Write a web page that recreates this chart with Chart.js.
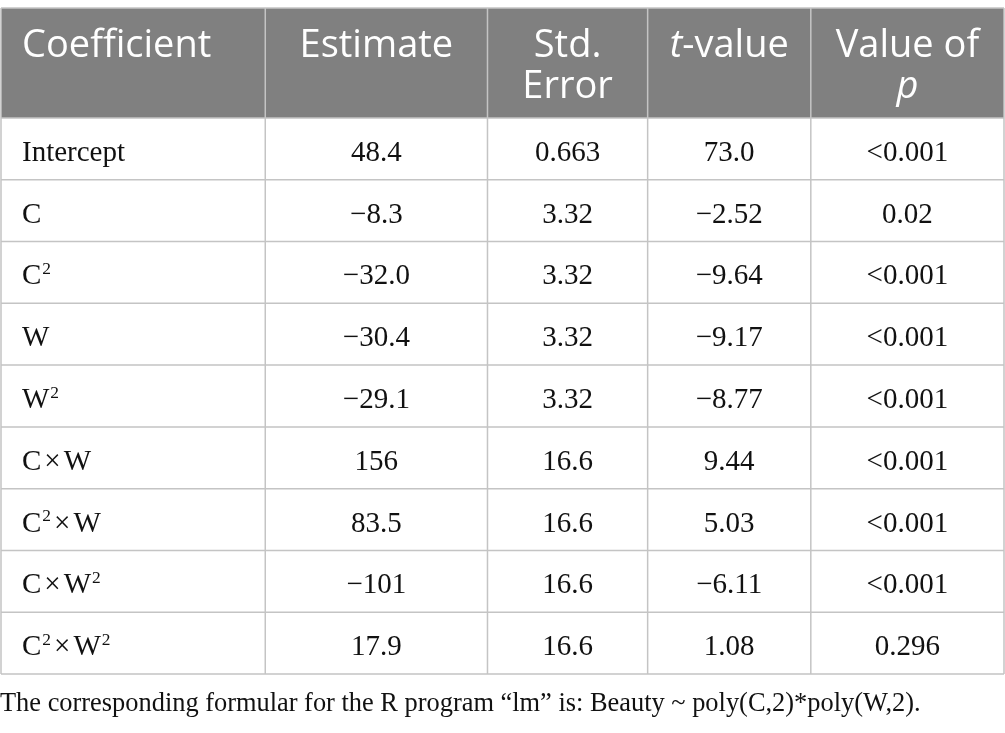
<!DOCTYPE html>
<html>
<head>
<meta charset="utf-8">
<script src="https://cdn.jsdelivr.net/npm/chart.js@4/dist/chart.umd.min.js"></script>
<style>
  html, body { margin: 0; padding: 0; background: #fff; }
  #wrap { width: 1005px; height: 733px; position: relative; }
</style>
</head>
<body>
<div id="wrap"><canvas id="table-chart"></canvas></div>
<script>
// Table contents
const headers = [["Coefficient"], ["Estimate"], ["Std.", "Error"], ["*t*-value"], ["Value of", "*p*"]];
const coefficients = ["Intercept", "C", "C^2", "W", "W^2", "C×W", "C^2×W", "C×W^2", "C^2×W^2"];
const estimates = ["48.4", "−8.3", "−32.0", "−30.4", "−29.1", "156", "83.5", "−101", "17.9"];
const stdErrors = ["0.663", "3.32", "3.32", "3.32", "3.32", "16.6", "16.6", "16.6", "16.6"];
const tValues = ["73.0", "−2.52", "−9.64", "−9.17", "−8.77", "9.44", "5.03", "−6.11", "1.08"];
const pValues = ["<0.001", "0.02", "<0.001", "<0.001", "<0.001", "<0.001", "<0.001", "<0.001", "0.296"];
const footnote = "The corresponding formular for the R program \u201Clm\u201D is: Beauty ~ poly(C,2)*poly(W,2).";

// layout
const colWidths = [264, 222, 160, 163, 193];
const HEADER_TOP = 8;
const GRID = "#c4c4c4";
const HEAD_BG = "#808080";
const SERIF = "'Liberation Serif', 'Times New Roman', serif";
const SANS = "'Open Sans', 'Noto Sans', sans-serif";

const colEdges = [0];
colWidths.forEach((w) => colEdges.push(colEdges[colEdges.length - 1] + w));
const columns = [coefficients, estimates, stdErrors, tValues, pValues];

// texto con superindices (^2) y el signo x con poco espacio
function richTokens(text) {
  const out = [];
  text.split(/(\^2|×)/).forEach((t) => {
    if (!t) return;
    if (t === "^2") out.push({ s: "2", sup: true });
    else if (t === "×") out.push({ s: "×", gap: 3 });
    else out.push({ s: t });
  });
  return out;
}

function drawRich(ctx, text, x, y, align, size) {
  const tokens = richTokens(text);
  let total = 0;
  tokens.forEach((tk) => {
    ctx.font = (tk.sup ? size * 0.6 : size) + "px " + SERIF;
    tk.w = ctx.measureText(tk.s).width + (tk.gap ? tk.gap * 2 : 0) + (tk.sup ? 1 : 0);
    total += tk.w;
  });
  let cx = align === "center" ? x - total / 2 : x;
  ctx.textAlign = "left";
  tokens.forEach((tk) => {
    ctx.font = (tk.sup ? size * 0.6 : size) + "px " + SERIF;
    const dx = tk.gap ? tk.gap : (tk.sup ? 1 : 0);
    ctx.fillText(tk.s, cx + dx, tk.sup ? y - size * 0.36 : y);
    cx += tk.w;
  });
}

// header with *italic* parts
function drawHeaderLine(ctx, text, x, y, align, size) {
  const parts = text.split(/(\*[^*]+\*)/).filter((p) => p);
  const segs = parts.map((p) => {
    const it = p.startsWith("*");
    const s = it ? p.slice(1, -1) : p;
    ctx.font = (it ? "italic " : "") + size + "px " + SANS;
    return { s: s, it: it, w: ctx.measureText(s).width };
  });
  const total = segs.reduce((a, b) => a + b.w, 0);
  let cx = align === "center" ? x - total / 2 : x;
  ctx.textAlign = "left";
  segs.forEach((sg) => {
    ctx.font = (sg.it ? "italic " : "") + size + "px " + SANS;
    ctx.fillText(sg.s, cx, y);
    cx += sg.w;
  });
}

const tablePlugin = {
  id: "tablePlugin",
  afterDraw(chart) {
    const ctx = chart.ctx;
    const xs = chart.scales.x;
    const ys = chart.scales.y;
    const area = chart.chartArea;
    const left = xs.getPixelForValue(colEdges[0]);
    const right = xs.getPixelForValue(colEdges[colEdges.length - 1]);
    const rowTop = (i) => ys.getPixelForValue(i - 0.5);
    const bottom = rowTop(coefficients.length);

    ctx.save();
    // header band
    ctx.fillStyle = HEAD_BG;
    ctx.fillRect(left, HEADER_TOP, right - left, area.top - HEADER_TOP);

    // grid
    ctx.strokeStyle = GRID;
    ctx.lineWidth = 1.5;
    ctx.beginPath();
    ctx.moveTo(left, HEADER_TOP);
    ctx.lineTo(right, HEADER_TOP);
    for (let i = 0; i <= coefficients.length; i++) {
      const y = rowTop(i);
      ctx.moveTo(left, y);
      ctx.lineTo(right, y);
    }
    colEdges.forEach((e) => {
      const x = xs.getPixelForValue(e);
      ctx.moveTo(x, HEADER_TOP);
      ctx.lineTo(x, bottom);
    });
    ctx.stroke();

    // header text
    ctx.fillStyle = "#ffffff";
    ctx.textBaseline = "alphabetic";
    headers.forEach((lines, c) => {
      const x0 = xs.getPixelForValue(colEdges[c]);
      const x1 = xs.getPixelForValue(colEdges[c + 1]);
      lines.forEach((ln, k) => {
        const y = HEADER_TOP + 49 + k * 41;
        if (c === 0) drawHeaderLine(ctx, ln, x0 + 21, y, "left", 38);
        else drawHeaderLine(ctx, ln, (x0 + x1) / 2, y, "center", 38);
      });
    });

    // body
    ctx.fillStyle = "#111111";
    columns.forEach((vals, c) => {
      const x0 = xs.getPixelForValue(colEdges[c]);
      const x1 = xs.getPixelForValue(colEdges[c + 1]);
      vals.forEach((v, r) => {
        const y = ys.getPixelForValue(r) + 12;
        if (c === 0) drawRich(ctx, v, x0 + 21, y, "left", 29);
        else drawRich(ctx, v, (x0 + x1) / 2, y, "center", 29);
      });
    });

    // footnote
    ctx.font = "26.4px " + SERIF;
    ctx.textAlign = "left";
    ctx.fillText(footnote, 0, bottom + 37);
    ctx.restore();
  },
};

const tableChart = new Chart(document.getElementById("table-chart"), {
  type: "scatter",
  data: { labels: coefficients, datasets: [] },
  options: {
    responsive: true,
    maintainAspectRatio: false,
    animation: false,
    layout: { padding: { top: 118, bottom: 59, left: 1, right: 1 } },
    plugins: { legend: { display: false }, tooltip: { enabled: false } },
    scales: {
      x: { type: "linear", display: false, min: 0, max: colEdges[colEdges.length - 1] },
      y: { type: "category", labels: coefficients, display: false, offset: true },
    },
  },
  plugins: [tablePlugin],
});
</script>
</body>
</html>
